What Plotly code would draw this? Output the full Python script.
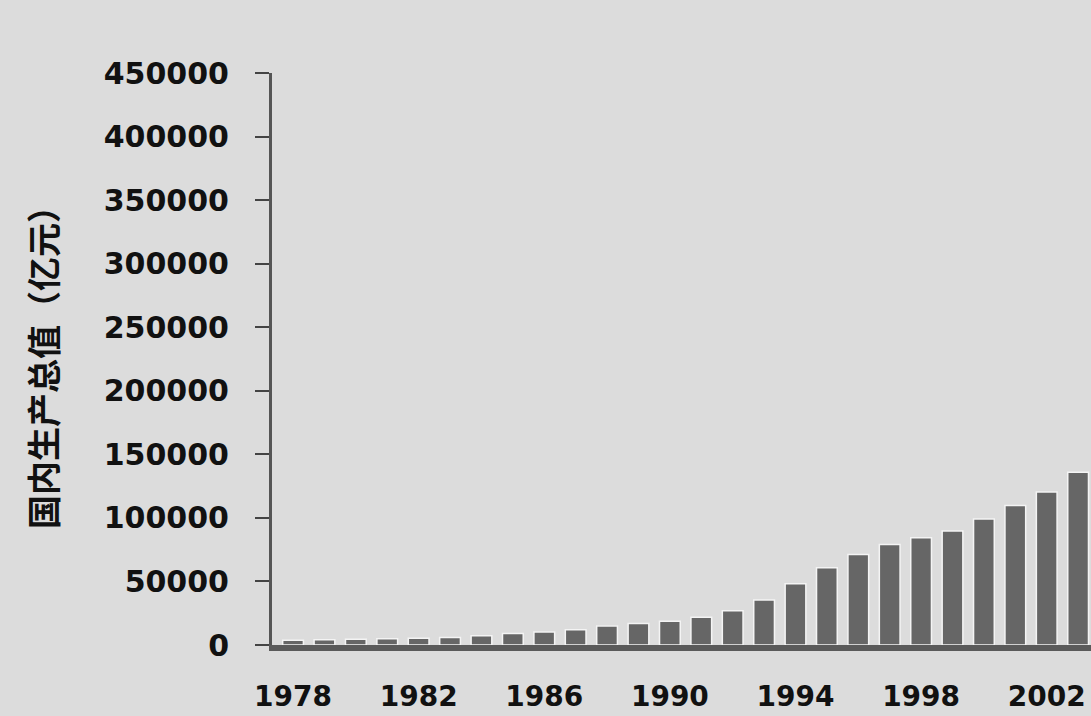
import plotly.graph_objects as go

years = list(range(1978, 2004))
gdp = [3645, 4062, 4545, 4891, 5323, 5962, 7208, 9016, 10275, 12058, 15042, 16992,
       18668, 21781, 26923, 35333, 48197, 60793, 71176, 78973, 84402, 89677, 99214,
       109655, 120332, 135822]
x_tick_vals = [1978, 1982, 1986, 1990, 1994, 1998, 2002]
x_tick_text = ["1978", "1982", "1986", "1990", "1994", "1998", "2002"]
y_tick_vals = [0, 50000, 100000, 150000, 200000, 250000, 300000, 350000, 400000, 450000]
y_title = "国内生产总值（亿元）"

fig = go.Figure()
fig.add_trace(go.Bar(
    x=years, y=gdp, width=0.66,
    marker=dict(color="#666666", line=dict(color="#f4f4f4", width=1.5)),
))

fig.update_layout(
    width=1091, height=716,
    margin=dict(l=272, r=0, t=73, b=71),
    paper_bgcolor="#dcdcdc", plot_bgcolor="#dcdcdc",
    showlegend=False,
    bargap=0.3,
)
fig.update_xaxes(
    range=[1977.33, 2003.41],
    tickvals=x_tick_vals, ticktext=x_tick_text,
    tickfont=dict(family="DejaVu Sans", size=28, color="#111", weight="bold"),
    ticks="outside", ticklen=0, ticklabelstandoff=21,
    showline=True, linecolor="#5a5a5a", linewidth=6,
    showgrid=False, zeroline=False, automargin=False,
)
fig.update_yaxes(
    range=[0, 450000],
    tickvals=y_tick_vals, ticktext=[str(v) for v in y_tick_vals],
    tickfont=dict(family="DejaVu Sans", size=30, color="#111", weight="bold"),
    ticks="outside", ticklen=14, tickwidth=2, tickcolor="#444",
    ticklabelstandoff=20,
    showline=True, linecolor="#555", linewidth=3,
    showgrid=False, zeroline=False, automargin=False,
    title=dict(text=y_title, font=dict(family="Noto Sans CJK SC", size=34, color="#111", weight="bold"), standoff=36),
)

fig.write_html(
    "out.html",
    config={"displayModeBar": False},
    post_script="document.body.style.margin='0';document.body.style.background='#dcdcdc';",
)
